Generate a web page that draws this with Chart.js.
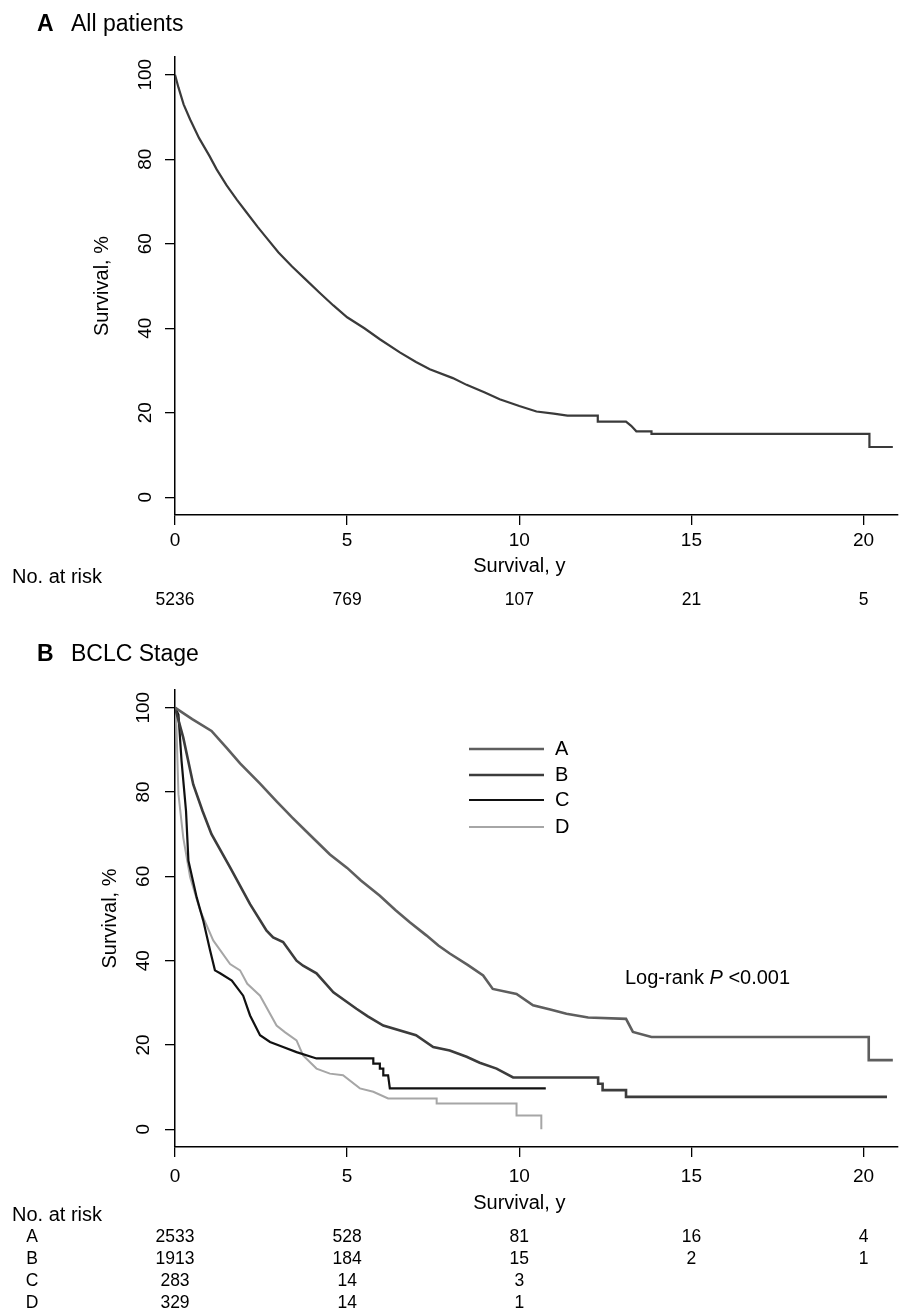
<!DOCTYPE html>
<html>
<head>
<meta charset="utf-8">
<script src="https://cdn.jsdelivr.net/npm/chart.js@4.4.1/dist/chart.umd.min.js"></script>
<style>
  html, body { margin: 0; padding: 0; background: #fff; }
  #wrap { position: relative; width: 914px; height: 1310px; }
  canvas { position: absolute; left: 0; top: 0; }
</style>
</head>
<body>
<div id="wrap">
  <canvas id="chartAll" width="914" height="1310"></canvas>
  <canvas id="chartStage" width="914" height="1310"></canvas>
</div>
<script>
// axis ticks
const yearTicks = [0, 5, 10, 15, 20];
const survTicks = [0, 20, 40, 60, 80, 100];

// A: all patients (years, survival %)
const allTime = [0, 0.1, 0.25, 0.44, 0.7, 1.0, 1.21, 1.5, 1.8, 2.08, 2.4, 2.66, 3.0, 3.4, 3.8, 4.2, 4.6, 5.0, 5.5, 5.95,
  6.53, 7.0, 7.4, 8.07, 8.47, 9.0, 9.43, 10.0, 10.5, 11.0, 11.4, 12.28, 12.28, 13.1, 13.25, 13.4, 13.84, 13.84, 20.17, 20.17, 20.85];
const allSurv = [100, 97, 93, 89.4, 85, 80.8, 77.6, 73.8, 70.4, 67.4, 64, 61.4, 58, 54.6, 51.5, 48.4, 45.4, 42.6, 40, 37.4,
  34.3, 32, 30.3, 28.2, 26.6, 24.8, 23.2, 21.6, 20.3, 19.8, 19.3, 19.3, 17.9, 17.9, 16.9, 15.6, 15.6, 15.0, 15.0, 11.9, 11.9];
const riskAll = [5236, 769, 107, 21, 5];

// B: BCLC stage
const stageNames = ['A', 'B', 'C', 'D'];
const stageATime = [0, 0.5, 1.06, 1.5, 1.89, 2.47, 2.95, 3.4, 3.92, 4.5, 5.0, 5.4, 5.95, 6.4, 6.82, 7.3, 7.65, 7.98, 8.5, 8.95, 9.23,
  9.92, 10.4, 10.9, 11.37, 12.0, 13.1, 13.3, 13.84, 20.15, 20.15, 20.85];
const stageASurv = [100, 97.3, 94.5, 90.5, 86.8, 82, 77.8, 74, 69.8, 65.2, 62, 59, 55.4, 52, 49.1, 46, 43.6, 41.7, 39, 36.5, 33.3,
  32.1, 29.4, 28.4, 27.4, 26.5, 26.2, 23.1, 21.9, 21.9, 16.4, 16.4];
const stageBTime = [0, 0.24, 0.53, 0.8, 1.06, 1.6, 2.18, 2.66, 2.85, 3.14, 3.53, 3.72, 4.11, 4.6, 5.27, 5.6,
  6.05, 7.0, 7.5, 7.98, 8.47, 8.85, 9.34, 9.82, 12.29, 12.29, 12.42, 12.42, 13.1, 13.1, 20.68];
const stageBSurv = [100, 92.9, 81.8, 75.5, 70, 62.1, 53.4, 47.1, 45.5, 44.4, 40, 38.8, 37, 32.5, 28.6, 26.8,
  24.6, 22.3, 19.5, 18.7, 17.2, 15.8, 14.4, 12.3, 12.3, 10.8, 10.8, 9.3, 9.3, 7.7, 7.7];
const stageCTime = [0, 0.1, 0.19, 0.32, 0.39, 0.63, 0.82, 1.02, 1.16, 1.31, 1.65, 1.98, 2.18, 2.47, 2.76, 3.14, 3.53, 4.11,
  5.76, 5.76, 5.95, 5.95, 6.05, 6.05, 6.19, 6.24, 10.77];
const stageCSurv = [100, 98.4, 87.4, 75.5, 63.7, 55, 49.5, 42.4, 37.7, 37, 35.3, 31.7, 27, 22.3, 20.7, 19.5, 18.3, 16.8,
  16.8, 15.6, 15.6, 14.4, 14.4, 12.8, 12.8, 9.7, 9.7];
const stageDTime = [0, 0.03, 0.1, 0.24, 0.44, 0.73, 1.11, 1.6, 1.89, 2.1, 2.47, 2.95, 3.2, 3.53, 3.72, 4.11, 4.5, 4.88,
  5.37, 5.76, 6.19, 7.6, 7.6, 9.92, 9.92, 10.64, 10.64];
const stageDSurv = [100, 99, 79.5, 69.2, 59.8, 51.9, 44.8, 39.2, 37.7, 34.5, 31.7, 24.6, 23, 21.1, 17.5, 14.4, 13.2, 12.8,
  9.7, 8.9, 7.3, 7.3, 6.1, 6.1, 3.3, 3.3, 0];
const riskStage = [
  [2533, 528, 81, 16, 4],
  [1913, 184, 15, 2, 1],
  [283, 14, 3],
  [329, 14, 1]
];

const stageColors = ['#5e5e5e', '#3c3c3c', '#111111', '#a6a6a6'];
const stageWidths = [2.6, 2.6, 2.2, 2];
const fontFam = '"Liberation Sans", Arial, Helvetica, sans-serif';

function toPoints(times, surv){
  return times.map((t, i) => ({x: t, y: surv[i]}));
}

function axisOptions(){
  const common = {
    grid: {drawOnChartArea: false, drawTicks: true, tickLength: 10, color: '#000', lineWidth: 1.3},
    border: {display: true, color: '#000', width: 1.5},
    ticks: {display: false}
  };
  return {
    x: {
      type: 'linear', min: 0, max: 21, ...common,
      afterBuildTicks: s => { s.ticks = yearTicks.map(v => ({value: v})); },
      afterFit: s => { s.height = 20; }
    },
    y: {
      type: 'linear', min: -4.2, max: 104.2, ...common,
      afterBuildTicks: s => { s.ticks = survTicks.map(v => ({value: v})); },
      afterFit: s => { s.width = 20; }
    }
  };
}

function drawAxisText(chart, o){
  const ctx = chart.ctx;
  const xs = chart.scales.x, ys = chart.scales.y;
  ctx.save();
  ctx.fillStyle = '#000';
  ctx.textAlign = 'center';
  ctx.textBaseline = 'middle';
  ctx.font = `19px ${fontFam}`;
  for(let v of yearTicks)
    ctx.fillText(String(v), xs.getPixelForValue(v), o.xTickY);
  for(let v of survTicks){
    ctx.save();
    ctx.translate(o.yTickX, ys.getPixelForValue(v));
    ctx.rotate(-Math.PI / 2);
    ctx.fillText(String(v), 0, 0);
    ctx.restore();
  }
  ctx.font = `20px ${fontFam}`;
  ctx.fillText('Survival, y', xs.getPixelForValue(10), o.xTitleY);
  ctx.save();
  ctx.translate(o.yTitleX, (ys.top + ys.bottom) / 2);
  ctx.rotate(-Math.PI / 2);
  ctx.fillText('Survival, %', 0, 0);
  ctx.restore();

  // panel title
  ctx.textAlign = 'left';
  ctx.font = `bold 23px ${fontFam}`;
  ctx.fillText(o.letter, 37, o.titleY);
  ctx.font = `23px ${fontFam}`;
  ctx.fillText(o.title, 71, o.titleY);

  // numbers at risk
  ctx.font = `20px ${fontFam}`;
  ctx.fillText('No. at risk', 12, o.riskHeadY);
  ctx.font = `17.5px ${fontFam}`;
  o.riskRows.forEach((row, r) => {
    const y = o.riskY[r];
    ctx.textAlign = 'center';
    if(o.rowLabels)
      ctx.fillText(o.rowLabels[r], 32, y);
    row.forEach((n, i) => ctx.fillText(String(n), xs.getPixelForValue(yearTicks[i]), y));
  });
  ctx.restore();
}

const allChart = new Chart(document.getElementById('chartAll'), {
  type: 'line',
  data: {
    datasets: [{
      label: 'All patients',
      data: toPoints(allTime, allSurv),
      borderColor: '#3a3a3a',
      borderWidth: 2.2,
      pointRadius: 0,
      tension: 0
    }]
  },
  options: {
    responsive: false,
    animation: false,
    devicePixelRatio: 1,
    layout: {padding: {left: 155, top: 57, right: 16, bottom: 1310 - 515 - 20}},
    plugins: {legend: {display: false}, tooltip: {enabled: false}},
    scales: axisOptions()
  },
  plugins: [{
    id: 'allText',
    afterDraw(chart){
      drawAxisText(chart, {
        xTickY: 541, yTickX: 146, xTitleY: 566, yTitleX: 102,
        letter: 'A', title: 'All patients', titleY: 25,
        riskHeadY: 577, riskRows: [riskAll], riskY: [600]
      });
    }
  }]
});

const stageTimes = [stageATime, stageBTime, stageCTime, stageDTime];
const stageSurvs = [stageASurv, stageBSurv, stageCSurv, stageDSurv];

const stageChart = new Chart(document.getElementById('chartStage'), {
  type: 'line',
  data: {
    datasets: stageNames.map((name, i) => ({
      label: name,
      data: toPoints(stageTimes[i], stageSurvs[i]),
      borderColor: stageColors[i],
      borderWidth: stageWidths[i],
      pointRadius: 0,
      tension: 0
    }))
  },
  options: {
    responsive: false,
    animation: false,
    devicePixelRatio: 1,
    layout: {padding: {left: 155, top: 690, right: 16, bottom: 1310 - 1147 - 20}},
    plugins: {legend: {display: false}, tooltip: {enabled: false}},
    scales: axisOptions()
  },
  plugins: [{
    id: 'stageText',
    afterDraw(chart){
      drawAxisText(chart, {
        xTickY: 1177, yTickX: 144, xTitleY: 1203, yTitleX: 110,
        letter: 'B', title: 'BCLC Stage', titleY: 655,
        riskHeadY: 1215, riskRows: riskStage, riskY: [1237, 1259, 1281, 1303],
        rowLabels: stageNames
      });
      const ctx = chart.ctx;
      ctx.save();
      // legend
      const legY = [749, 775, 800, 827];
      stageNames.forEach((name, i) => {
        ctx.strokeStyle = stageColors[i];
        ctx.lineWidth = stageWidths[i];
        ctx.beginPath();
        ctx.moveTo(469, legY[i]);
        ctx.lineTo(544, legY[i]);
        ctx.stroke();
        ctx.fillStyle = '#000';
        ctx.font = `20px ${fontFam}`;
        ctx.textAlign = 'left';
        ctx.textBaseline = 'middle';
        ctx.fillText(name, 555, legY[i]);
      });
      // log-rank
      let x = 625;
      const y = 978;
      ctx.font = `20px ${fontFam}`;
      ctx.fillText('Log-rank ', x, y);
      x += ctx.measureText('Log-rank ').width;
      ctx.font = `italic 20px ${fontFam}`;
      ctx.fillText('P', x, y);
      x += ctx.measureText('P').width;
      ctx.font = `20px ${fontFam}`;
      ctx.fillText(' <0.001', x, y);
      ctx.restore();
    }
  }]
});
</script>
</body>
</html>
